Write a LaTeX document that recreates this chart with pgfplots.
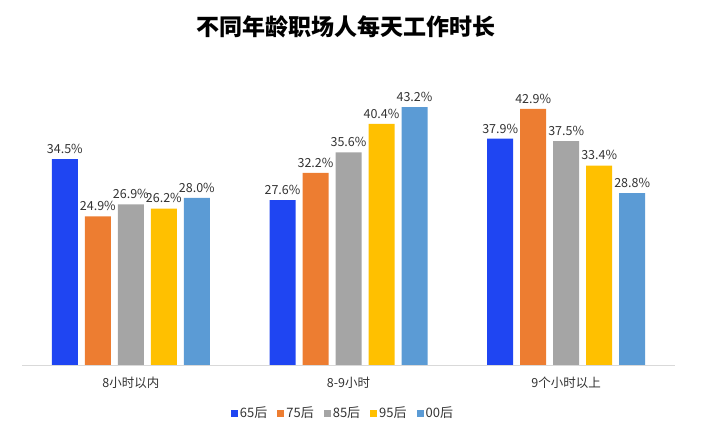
\documentclass[border=0pt]{standalone}
\usepackage{fontspec}
\setmainfont{Noto Sans CJK SC}
\usepackage{pgfplots}
\pgfplotsset{compat=1.18}
\definecolor{c65}{HTML}{1F45F2}
\definecolor{c75}{HTML}{ED7D31}
\definecolor{c85}{HTML}{A5A5A5}
\definecolor{c95}{HTML}{FFC000}
\definecolor{c00}{HTML}{5B9BD5}
\definecolor{lbl}{HTML}{333333}
\begin{document}
\begin{tikzpicture}
\useasboundingbox (0,0) rectangle (712bp,432bp);
\node[font=\fontsize{23bp}{26bp}\selectfont\bfseries, text=black] at (346bp,405bp) {不同年龄职场人每天工作时长};
\begin{axis}[
  at={(22bp,67bp)}, anchor=south west,
  scale only axis,
  width=653bp, height=268.65bp,
  ymin=0, ymax=45,
  xmin=-0.5, xmax=2.5,
  enlarge x limits=false,
  ybar=7bp, bar width=26bp,
  axis y line=none,
  axis x line*=bottom,
  x axis line style={draw=black!15, line width=0.8bp, -},
  xtick={0,1,2},
  xticklabels={8小时以内,8-9小时,9个小时以上},
  xtick style={draw=none},
  x tick label style={font=\fontsize{12.5bp}{14bp}\selectfont, text=lbl, yshift=-4bp},
  /pgf/number format/assume math mode=true,
  nodes near coords={\pgfmathprintnumber[fixed,fixed zerofill,precision=1]{\pgfplotspointmeta}\%},
  every node near coord/.append style={font=\fontsize{12.5bp}{14bp}\selectfont, text=lbl, yshift=2bp},
  legend style={at={(0.4916,-0.179)}, anchor=center, draw=none, fill=none,
    legend columns=5, font=\fontsize{13bp}{15bp}\selectfont, text=lbl,
    /tikz/every even column/.append style={column sep=8bp},
    inner sep=0pt},
  legend image code/.code={\fill[#1] (0bp,-3.5bp) rectangle (7bp,3.5bp);},
]
\addplot[fill=c65, draw=none] coordinates {(0,34.5) (1,27.6) (2,37.9)};
\addplot[fill=c75, draw=none] coordinates {(0,24.9) (1,32.2) (2,42.9)};
\addplot[fill=c85, draw=none] coordinates {(0,26.9) (1,35.6) (2,37.5)};
\addplot[fill=c95, draw=none] coordinates {(0,26.2) (1,40.4) (2,33.4)};
\addplot[fill=c00, draw=none] coordinates {(0,28.0) (1,43.2) (2,28.8)};
\legend{65后,75后,85后,95后,00后}
\end{axis}
\end{tikzpicture}
\end{document}
